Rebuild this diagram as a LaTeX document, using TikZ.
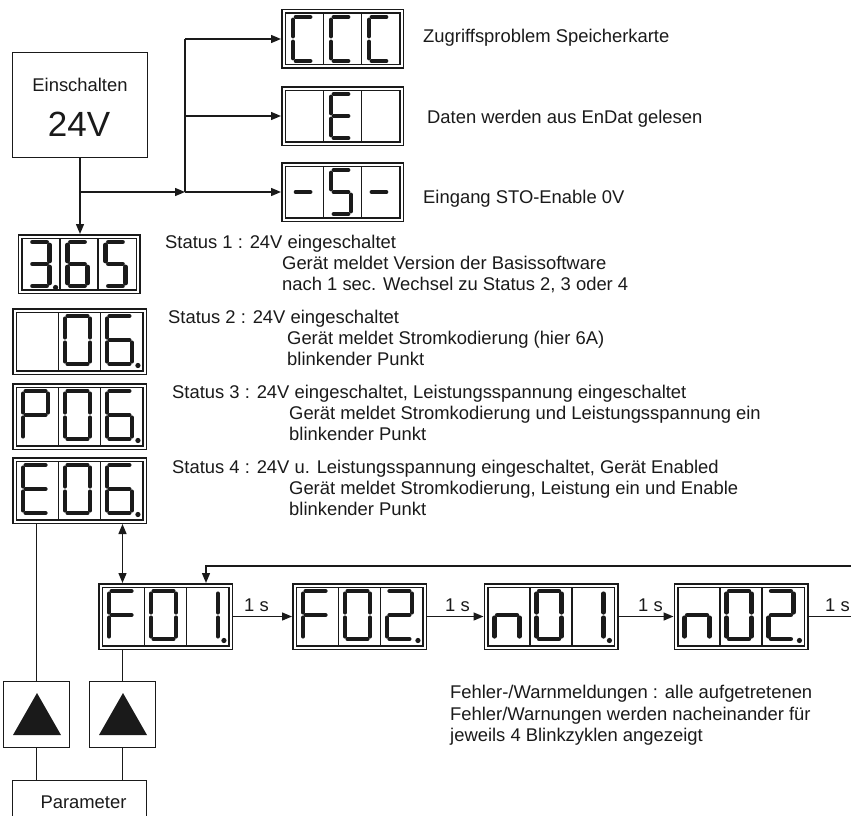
\documentclass[tikz,border=0pt]{standalone}
\usepackage{fontspec}
\setmainfont{Liberation Sans}
\usetikzlibrary{arrows.meta,calc}
\definecolor{ink}{HTML}{1A1A1A}

% segment drawing helpers
\newcommand\dgt[5]{\begin{scope}[shift={(#1,#2)}]\def\sgW{#3}\def\sgH{#4}#5\end{scope}}
\def\sgG{2.8}
\newcommand\segA{\draw[seg] (-\sgW+\sgG,-\sgH) -- (\sgW-\sgG,-\sgH);}
\newcommand\segB{\draw[seg] (\sgW,-\sgH+\sgG) -- (\sgW,-\sgG);}
\newcommand\segC{\draw[seg] (\sgW,\sgG) -- (\sgW,\sgH-\sgG);}
\newcommand\segD{\draw[seg] (-\sgW+\sgG,\sgH) -- (\sgW-\sgG,\sgH);}
\newcommand\segE{\draw[seg] (-\sgW,\sgG) -- (-\sgW,\sgH-\sgG);}
\newcommand\segF{\draw[seg] (-\sgW,-\sgH+\sgG) -- (-\sgW,-\sgG);}
\newcommand\segG{\draw[seg] (-\sgW+\sgG,0) -- (\sgW-\sgG,0);}
\newcommand\segP{\fill[ink] (\sgW+6,\sgH+1.5) circle (2.6pt);}
\def\dgC{\segA\segD\segE\segF}
\def\dgE{\segA\segD\segE\segF\segG}
\def\dgMinus{\segG}
\def\dgFive{\segA\segF\segG\segC\segD}
\def\dgThree{\segA\segB\segC\segD\segG}
\def\dgSix{\segA\segF\segE\segD\segC\segG}
\def\dgZero{\segA\segB\segC\segD\segE\segF}
\def\dgP{\segA\segB\segF\segG\segE}
\def\dgF{\segA\segF\segE\segG}
\def\dgOne{\segB\segC}
\def\dgTwo{\segA\segB\segG\segE\segD}
\def\dgn{\segC\segE\segG}

\newcommand\bigdisp[6]{%
  \node[dispbig] (#1) at (#2,#3) {};
  \draw[divider] (#2-20.97,#3-28.9) -- (#2-20.97,#3+28.9);
  \draw[divider] (#2+20.97,#3-28.9) -- (#2+20.97,#3+28.9);
  \begin{scope}[seg/.append style={line width=4.8pt}]
  \dgt{#2-41.93-2}{#3-1.5}{12.5}{24}{#4}
  \dgt{#2-2}{#3-1.5}{12.5}{24}{#5}
  \dgt{#2+41.93-2}{#3-1.5}{12.5}{24}{#6}
  \end{scope}}
\newcommand\smalldisp[6]{%
  \node[dispsmall] (#1) at (#2,#3) {};
  \draw[divider] (#2-18.97,#3-25.4) -- (#2-18.97,#3+25.4);
  \draw[divider] (#2+18.97,#3-25.4) -- (#2+18.97,#3+25.4);
  \begin{scope}[seg/.append style={line width=4.4pt}]
  \dgt{#2-37.93-1.5}{#3}{10}{22}{#4}
  \dgt{#2-1.5}{#3}{10}{22}{#5}
  \dgt{#2+37.93-1.5}{#3}{10}{22}{#6}
  \end{scope}}

\begin{document}
\begin{tikzpicture}[x=1pt,y=-1pt,
  every node/.style={font=\fontsize{18.4}{21}\selectfont, text=ink, inner sep=0pt},
  disp/.style={draw=ink, double=white, double distance=2pt, line width=1.5pt, outer sep=2.5pt, inner sep=0pt},
  dispbig/.style={disp, minimum width=130pt, minimum height=62pt},
  dispsmall/.style={disp, minimum width=118pt, minimum height=55pt},
  divider/.style={draw=ink, line width=1.5pt},
  seg/.style={draw=ink, line width=4.6pt, line cap=round},
  box/.style={draw=ink, line width=1.4pt, fill=white},
  conn/.style={draw=ink, line width=1.4pt},
  arr/.style={conn, -{Triangle[length=10pt,width=8pt]}},
  darr/.style={conn, {Triangle[length=10pt,width=8pt]}-{Triangle[length=10pt,width=8pt]}},
  txt/.style={anchor=base west},
]
\useasboundingbox (0,0) rectangle (851,816);
\fill[white] (0,0) rectangle (851,816);
\clip (0,0) rectangle (851,816);

% Power-on box
\node[box, minimum width=134.6pt, minimum height=104.6pt] (ein) at (80,105) {};
\node (einA) at (80,85) {Einschalten};
\node[font=\fontsize{35}{40}\selectfont] (einB) at (79,124) {24V};

% top displays
\smalldisp{dC}{342.5}{39}{\dgC}{\dgC}{\dgC}
\smalldisp{dE}{342.5}{116}{}{\dgE}{}
\smalldisp{dS}{342.5}{192}{\dgMinus}{\dgFive}{\dgMinus}

\node[txt] (tC) at (423,42.5) {Zugriffsproblem Speicherkarte};
\node[txt] (tE) at (427,123.5) {Daten werden aus EnDat gelesen};
\node[txt] (tS) at (423,203.5) {Eingang STO-Enable 0V};

% status displays
\smalldisp{d365}{79}{264}{\dgThree\segP}{\dgSix}{\dgFive}
\bigdisp{d06}{79.5}{341.5}{}{\dgZero}{\dgSix\segP}
\bigdisp{p06}{79.5}{416.5}{\dgP}{\dgZero}{\dgSix\segP}
\bigdisp{e06}{79.5}{490.5}{\dgE}{\dgZero}{\dgSix\segP}

% connectors top
\coordinate (j1) at (ein.south |- dS.west);
\coordinate (j2) at (185,192);
\coordinate (j3) at (j2 |- dC.west);
\coordinate (j4) at (j2 |- dE.west);
\draw[arr] (ein.south) -- (ein.south |- d365.north);
\draw[arr] (j1) -- (j2);
\draw[arr] (j2) -- (dS.west);
\draw[conn] (j2) -- (j3);
\draw[arr] (j3) -- (dC.west);
\draw[arr] (j4) -- (dE.west);

% status texts
\node[txt] (s1a) at (165,248.5) {Status 1 : 24V eingeschaltet};
\node[txt] (s1b) at (282,269.5) {Gerät meldet Version der Basissoftware};
\node[txt] (s1c) at (282,290.5) {nach 1 sec. Wechsel zu Status 2, 3 oder 4};
\node[txt] (s2a) at (168,323.5) {Status 2 : 24V eingeschaltet};
\node[txt] (s2b) at (287,344.5) {Gerät meldet Stromkodierung (hier 6A)};
\node[txt] (s2c) at (287,365.5) {blinkender Punkt};
\node[txt] (s3a) at (172,398.5) {Status 3 : 24V eingeschaltet, Leistungsspannung eingeschaltet};
\node[txt] (s3b) at (289,419.5) {Gerät meldet Stromkodierung und Leistungsspannung ein};
\node[txt] (s3c) at (289,440.5) {blinkender Punkt};
\node[txt] (s4a) at (172,473.5) {Status 4 : 24V u. Leistungsspannung eingeschaltet, Gerät Enabled};
\node[txt] (s4b) at (289,494.5) {Gerät meldet Stromkodierung, Leistung ein und Enable};
\node[txt] (s4c) at (289,515.5) {blinkender Punkt};

% error row
\bigdisp{f01}{165.5}{616.5}{\dgF}{\dgZero}{\dgOne\segP}
\bigdisp{f02}{359.5}{616.5}{\dgF}{\dgZero}{\dgTwo\segP}
\bigdisp{n01}{551}{616.5}{\dgn}{\dgZero}{\dgOne\segP}
\bigdisp{n02}{741}{616.5}{\dgn}{\dgZero}{\dgTwo\segP}

\draw[arr] (f01.east) -- (f02.west);
\draw[arr] (f02.east) -- (n01.west);
\draw[arr] (n01.east) -- (n02.west);
\coordinate (rEnd) at (851,616.5);
\draw[conn] (n02.east) -- (rEnd);
\coordinate (rTop) at (851,566);
\draw[arr] (rTop) -| ($(f01.north)+(40.5,0)$);

\node[txt] (l1) at (244,611.5) {1 s};
\node[txt] (l2) at (445,611.5) {1 s};
\node[txt] (l3) at (638,611.5) {1 s};
\node[txt] (l4) at (825,611.5) {1 s};

\node[txt] (fa) at (450,698.5) {Fehler-/Warnmeldungen : alle aufgetretenen};
\node[txt] (fb) at (450,720) {Fehler/Warnungen werden nacheinander für};
\node[txt] (fc) at (450,741.5) {jeweils 4 Blinkzyklen angezeigt};

% buttons and parameter
\node[box, minimum width=65.6pt, minimum height=65.6pt] (b1) at (36.5,714.5) {};
\node[box, minimum width=65.6pt, minimum height=65.6pt] (b2) at (122.5,714.5) {};
\fill[ink] ($(b1.center)+(0.5,-21.5)$) -- ($(b1.center)+(24.5,20.5)$) -- ($(b1.center)+(-23.5,20.5)$) -- cycle;
\fill[ink] ($(b2.center)+(0.5,-21.5)$) -- ($(b2.center)+(24.5,20.5)$) -- ($(b2.center)+(-23.5,20.5)$) -- cycle;
\node[box, minimum width=133.6pt, minimum height=60pt, anchor=north] (par) at (79.5,779.7) {};
\node (parT) at (83.5,802) {Parameter};

\draw[conn] (b1.north |- e06.south) -- (b1.north);
\draw[darr] (b2.north |- e06.south) -- (b2.north |- f01.north);
\draw[conn] (b2.north |- f01.south) -- (b2.north);
\draw[conn] (b1.south) -- (b1.south |- par.north);
\draw[conn] (b2.south) -- (b2.south |- par.north);
\end{tikzpicture}
\end{document}
